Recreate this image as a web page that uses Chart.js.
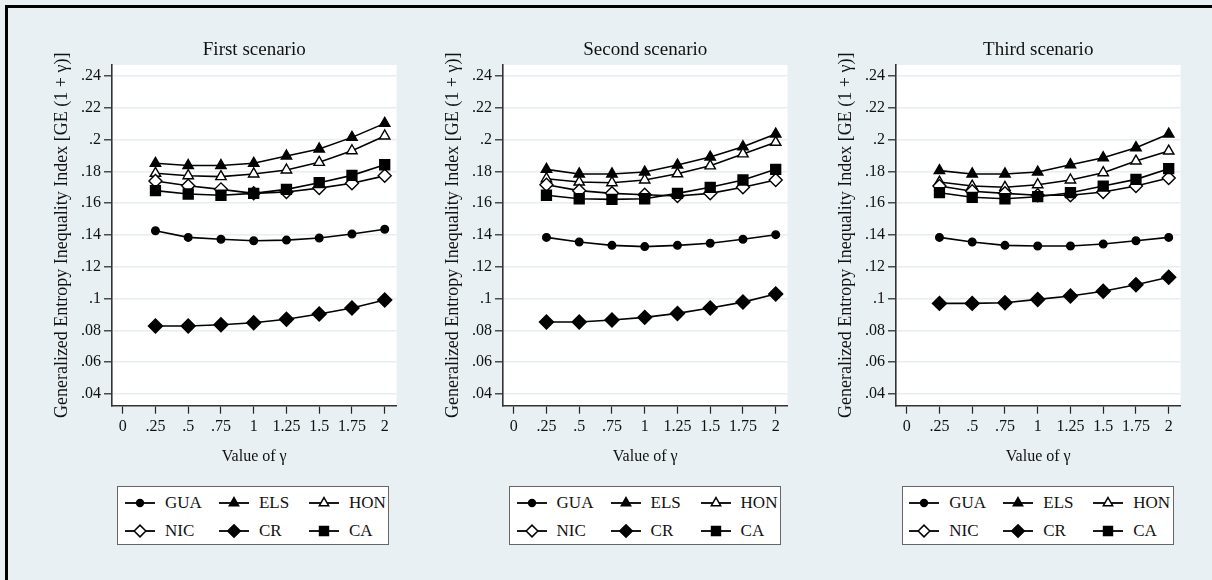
<!DOCTYPE html>
<html>
<head>
<meta charset="utf-8">
<script src="https://cdn.jsdelivr.net/npm/chart.js@4.4.1/dist/chart.umd.min.js"></script>
<style>
html,body{margin:0;padding:0;background:#e8f0f3;width:1212px;height:580px;overflow:hidden;font-family:"Liberation Serif","Times New Roman",serif;}
#frame{position:absolute;left:5px;top:5px;width:1230px;height:620px;border:3px solid #000;box-sizing:border-box;}
.panel{position:absolute;top:0;}
.legend{position:absolute;top:486px;height:59px;width:272px;background:#fff;border:1px solid #666;box-sizing:border-box;}
.item{position:absolute;height:20px;display:flex;align-items:center;font-size:17px;color:#111;white-space:nowrap;}
.item canvas{margin-right:10px;display:block;}
</style>
</head>
<body>
<div id="frame"></div>
<div id="root"></div>
<script>
// ---------- data ----------
const gammas = [0.25, 0.5, 0.75, 1, 1.25, 1.5, 1.75, 2];
const xTickValues = [0, 0.25, 0.5, 0.75, 1, 1.25, 1.5, 1.75, 2];
const xTickLabels = ['0', '.25', '.5', '.75', '1', '1.25', '1.5', '1.75', '2'];
const yTickValues = [0.04, 0.06, 0.08, 0.10, 0.12, 0.14, 0.16, 0.18, 0.20, 0.22, 0.24];
const yTickLabels = ['.04', '.06', '.08', '.1', '.12', '.14', '.16', '.18', '.2', '.22', '.24'];
const scenarioTitles = ['First scenario', 'Second scenario', 'Third scenario'];
const seriesNames = ['GUA', 'ELS', 'HON', 'NIC', 'CR', 'CA'];

// First scenario
const GUA_1 = [0.1427, 0.1385, 0.1373, 0.1364, 0.1368, 0.1381, 0.1406, 0.1436];
const ELS_1 = [0.1851, 0.1837, 0.1837, 0.1851, 0.1897, 0.1941, 0.2014, 0.2102];
const HON_1 = [0.1788, 0.1773, 0.1767, 0.1784, 0.1809, 0.1857, 0.1930, 0.2023];
const NIC_1 = [0.1740, 0.1710, 0.1687, 0.1662, 0.1670, 0.1695, 0.1725, 0.1772];
const CR_1  = [0.0828, 0.0828, 0.0836, 0.0848, 0.0870, 0.0903, 0.0941, 0.0991];
const CA_1  = [0.1679, 0.1658, 0.1650, 0.1662, 0.1687, 0.1729, 0.1775, 0.1842];
// Second scenario
const GUA_2 = [0.1385, 0.1356, 0.1335, 0.1327, 0.1335, 0.1348, 0.1373, 0.1402];
const ELS_2 = [0.1813, 0.1784, 0.1784, 0.1796, 0.1840, 0.1890, 0.1955, 0.2035];
const HON_2 = [0.1754, 0.1733, 0.1729, 0.1746, 0.1785, 0.1835, 0.1910, 0.1983];
const NIC_2 = [0.1716, 0.1679, 0.1662, 0.1653, 0.1645, 0.1662, 0.1700, 0.1746];
const CR_2  = [0.0853, 0.0853, 0.0865, 0.0882, 0.0907, 0.0941, 0.0978, 0.1029];
const CA_2  = [0.1650, 0.1628, 0.1624, 0.1628, 0.1662, 0.1700, 0.1746, 0.1813];
// Third scenario
const GUA_3 = [0.1385, 0.1356, 0.1335, 0.1331, 0.1331, 0.1343, 0.1364, 0.1385];
const ELS_3 = [0.1805, 0.1784, 0.1784, 0.1796, 0.1842, 0.1886, 0.1949, 0.2035];
const HON_3 = [0.1733, 0.1708, 0.1700, 0.1716, 0.1746, 0.1792, 0.1865, 0.1928];
const NIC_3 = [0.1708, 0.1675, 0.1662, 0.1650, 0.1650, 0.1670, 0.1708, 0.1758];
const CR_3  = [0.0970, 0.0970, 0.0974, 0.0995, 0.1016, 0.1046, 0.1087, 0.1134];
const CA_3  = [0.1666, 0.1637, 0.1628, 0.1641, 0.1666, 0.1708, 0.1750, 0.1817];

const scenarioData = [
  [GUA_1, ELS_1, HON_1, NIC_1, CR_1, CA_1],
  [GUA_2, ELS_2, HON_2, NIC_2, CR_2, CA_2],
  [GUA_3, ELS_3, HON_3, NIC_3, CR_3, CA_3]
];

// ---------- styles ----------
const FONT = '"Liberation Serif", "Times New Roman", serif';
const markerStyles = [
  {style: 'circle',   radius: 3.8, fill: '#000'},
  {style: 'triangle', radius: 6,   fill: '#000'},
  {style: 'triangle', radius: 6,   fill: '#fff'},
  {style: 'rectRot',  radius: 6.5, fill: '#fff'},
  {style: 'rectRot',  radius: 7,   fill: '#000'},
  {style: 'rect',     radius: 7,   fill: '#000'}
];
const plotLefts = [111.7, 503.3, 896];
const plotWidth = 284.5;
const yAxisWidth = 100;
const canvasW = 395, canvasH = 470;

const plotBg = {
  id: 'plotBg',
  beforeDraw(c) {
    const a = c.chartArea, ctx = c.ctx;
    ctx.save();
    ctx.fillStyle = '#ffffff';
    ctx.fillRect(a.left, a.top, a.right - a.left, a.bottom - a.top);
    ctx.restore();
  }
};

const root = document.getElementById('root');

function drawLegendMarker(cv, m) {
  const ctx = cv.getContext('2d');
  const w = cv.width, h = cv.height, cx = w / 2, cy = h / 2;
  ctx.strokeStyle = '#000';
  ctx.lineWidth = 1.8;
  ctx.beginPath(); ctx.moveTo(0, cy); ctx.lineTo(w, cy); ctx.stroke();
  ctx.fillStyle = m.fill;
  ctx.lineWidth = 1.5;
  ctx.beginPath();
  const r = m.radius * 0.9;
  if (m.style === 'circle') {
    ctx.arc(cx, cy, r, 0, Math.PI * 2);
  } else if (m.style === 'triangle') {
    for (let k = 0; k < 3; k++) {
      const a = -Math.PI / 2 + k * 2 * Math.PI / 3;
      const px = cx + Math.cos(a) * r, py = cy + Math.sin(a) * r;
      if (k === 0) ctx.moveTo(px, py); else ctx.lineTo(px, py);
    }
  } else if (m.style === 'rectRot') {
    ctx.moveTo(cx - r, cy); ctx.lineTo(cx, cy - r); ctx.lineTo(cx + r, cy); ctx.lineTo(cx, cy + r);
  } else {
    const s = r * Math.SQRT1_2;
    ctx.rect(cx - s, cy - s, 2 * s, 2 * s);
  }
  ctx.closePath();
  ctx.fill();
  ctx.stroke();
}

scenarioTitles.forEach((title, p) => {
  const plotLeft = plotLefts[p];
  const cv = document.createElement('canvas');
  cv.width = canvasW; cv.height = canvasH;
  cv.className = 'panel';
  cv.style.left = (plotLeft - yAxisWidth) + 'px';
  cv.style.width = canvasW + 'px'; cv.style.height = canvasH + 'px';
  root.appendChild(cv);

  const datasets = seriesNames.map((name, i) => {
    const m = markerStyles[i];
    return {
      label: name,
      data: gammas.map((g, k) => ({x: g, y: scenarioData[p][i][k]})),
      borderColor: '#000',
      borderWidth: 1.6,
      pointStyle: m.style,
      pointRadius: m.radius,
      pointHoverRadius: m.radius,
      pointBackgroundColor: m.fill,
      pointBorderColor: '#000',
      pointBorderWidth: 1.4,
      tension: 0,
      fill: false,
      order: 5 - i
    };
  });

  new Chart(cv, {
    type: 'line',
    data: {datasets},
    plugins: [plotBg],
    options: {
      responsive: false,
      animation: false,
      devicePixelRatio: 1,
      layout: {padding: {left: 0, right: canvasW - yAxisWidth - plotWidth, top: 0, bottom: 0}},
      plugins: {
        legend: {display: false},
        tooltip: {enabled: false},
        title: {
          display: true, text: title, fullSize: false,
          color: '#111', font: {family: FONT, size: 19, weight: 'normal'},
          padding: {top: 38.6, bottom: 3.6}
        }
      },
      scales: {
        x: {
          type: 'linear',
          min: -0.0817, max: 2.090,
          afterBuildTicks: s => { s.ticks = xTickValues.map(v => ({value: v})); },
          afterFit: s => { s.height = 64.3; },
          ticks: {
            autoSkip: false, maxRotation: 0, minRotation: 0, padding: 3,
            color: '#111', font: {family: FONT, size: 16},
            callback: (v, i) => xTickLabels[i]
          },
          grid: {drawOnChartArea: false, drawTicks: true, tickLength: 8, tickColor: '#222', tickWidth: 1.2},
          border: {display: true, color: '#333', width: 1.6},
          title: {display: true, text: 'Value of γ', color: '#111', font: {family: FONT, size: 16}, padding: {top: 0, bottom: 3.4}}
        },
        y: {
          type: 'linear',
          min: 0.03265, max: 0.24692,
          afterBuildTicks: s => { s.ticks = yTickValues.map(v => ({value: v})); },
          afterFit: s => { s.width = yAxisWidth; },
          ticks: {
            padding: 3, color: '#111', font: {family: FONT, size: 16},
            callback: (v, i) => yTickLabels[i]
          },
          grid: {color: '#e6eef1', lineWidth: 1.6, drawTicks: true, tickLength: 8, tickColor: '#222', tickWidth: 1.2},
          border: {display: true, color: '#333', width: 1.6},
          title: {
            display: true, text: 'Generalized Entropy Inequality Index [GE (1 + γ)]',
            color: '#111', font: {family: FONT, size: 18}, padding: {top: 39.5, bottom: 0}
          }
        }
      }
    }
  });

  // legend
  const lg = document.createElement('div');
  lg.className = 'legend';
  lg.style.left = (plotLeft + 5.6) + 'px';
  const colX = [6.7, 100.7, 190.7];
  const rowY = [6.3, 34];
  seriesNames.forEach((name, i) => {
    const it = document.createElement('div');
    it.className = 'item';
    it.style.left = colX[i % 3] + 'px';
    it.style.top = rowY[Math.floor(i / 3)] + 'px';
    const mc = document.createElement('canvas');
    mc.width = 30; mc.height = 20;
    drawLegendMarker(mc, markerStyles[i]);
    it.appendChild(mc);
    const sp = document.createElement('span');
    sp.textContent = name;
    it.appendChild(sp);
    lg.appendChild(it);
  });
  root.appendChild(lg);
});
</script>
</body>
</html>
